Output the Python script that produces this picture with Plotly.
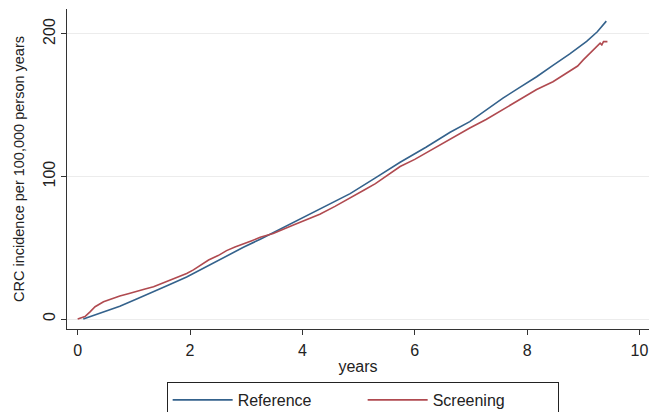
import plotly.graph_objects as go

# Reference arm (cumulative CRC incidence per 100,000 person years)
ref_years = [0.10, 0.40, 0.75, 1.05, 1.35, 1.64, 1.94, 2.35, 2.65, 2.95, 3.25, 3.55, 3.84,
             4.31, 4.85, 5.30, 5.74, 6.20, 6.63, 6.98, 7.27, 7.57, 7.87, 8.17, 8.46, 8.76, 9.06,
             9.25, 9.41]
ref_vals = [0.0, 4.3, 9.0, 14.0, 19.0, 24.2, 29.5, 38.0, 44.5, 50.3, 56.0, 62.0, 68.0,
            77.0, 88.0, 99.0, 110.0, 120.5, 131.0, 138.5, 146.5, 155.0, 162.5, 170.0, 178.0, 186.0,
            194.8, 201.5, 209.0]

# Screening arm
scr_years = [0.00, 0.13, 0.22, 0.31, 0.46, 0.60, 0.75, 0.90, 1.05, 1.20, 1.35, 1.50, 1.64, 1.80,
             1.94, 2.06, 2.20, 2.33, 2.50, 2.65, 2.80, 2.95, 3.10, 3.25, 3.48, 3.84, 4.07, 4.31,
             4.58, 4.85, 5.10, 5.30, 5.52, 5.74, 6.00, 6.20, 6.42, 6.63, 6.80, 6.98, 7.27, 7.57,
             7.87, 8.17, 8.46, 8.60, 8.76, 8.90, 9.00, 9.06, 9.15, 9.24, 9.30, 9.33, 9.36, 9.43]
scr_vals = [0.0, 1.7, 5.0, 8.6, 12.1, 14.3, 16.1, 17.8, 19.2, 21.0, 22.7, 25.0, 27.4, 29.8,
            32.0, 34.5, 37.8, 41.4, 44.5, 48.0, 50.5, 52.5, 55.0, 57.3, 60.0, 66.0, 69.5, 73.5,
            79.0, 84.7, 90.5, 95.0, 101.0, 107.0, 112.0, 116.5, 121.0, 126.0, 130.0, 134.0, 140.0,
            147.0, 153.5, 161.0, 166.5, 170.0, 173.5, 177.5, 181.8, 184.0, 188.0, 191.0, 193.5,
            192.3, 194.6, 194.6]

x_ticks = [0, 2, 4, 6, 8, 10]
y_ticks = [0, 100, 200]

FONT = "Liberation Sans, Arial, sans-serif"

fig = go.Figure()
fig.add_trace(go.Scatter(x=ref_years, y=ref_vals, mode="lines", name="Reference",
                         line=dict(color="#34628c", width=1.6)))
fig.add_trace(go.Scatter(x=scr_years, y=scr_vals, mode="lines", name="Screening",
                         line=dict(color="#b04a50", width=1.6)))

fig.update_layout(
    width=650, height=412,
    margin=dict(l=67, r=1, t=9, b=83, autoexpand=False),
    paper_bgcolor="white", plot_bgcolor="white",
    font=dict(family=FONT, size=16, color="#222"),
    showlegend=True,
    legend=dict(orientation="h", x=0.508, xanchor="center", y=0.0728, yanchor="top",
                yref="container",
                bordercolor="#222", borderwidth=1, font=dict(size=16),
                itemwidth=60, entrywidth=120, bgcolor="white"),
    xaxis=dict(range=[-0.19, 10.17], tickvals=x_ticks, showgrid=False, zeroline=False,
               showline=True, linecolor="#333", linewidth=1.2, ticks="outside",
               ticklen=5, tickcolor="#333", tickfont=dict(size=16), automargin=False,
               ticklabelstandoff=2,
               title=dict(text="years", font=dict(size=16), standoff=2)),
    yaxis=dict(range=[-7.0, 217.5], tickvals=y_ticks, showgrid=True, gridcolor="#ececec",
               gridwidth=1, zeroline=False, showline=True, linecolor="#333", linewidth=1.2,
               ticks="outside", ticklen=5, tickcolor="#333", tickangle=-90,
               tickfont=dict(size=16), automargin=False,
               title=dict(text="CRC incidence per 100,000 person years", font=dict(size=14.5),
                          standoff=12)),
)

fig.write_html("out.html", config={"displayModeBar": False},
               post_script="document.body.style.margin='0';document.body.style.overflow='hidden';")
